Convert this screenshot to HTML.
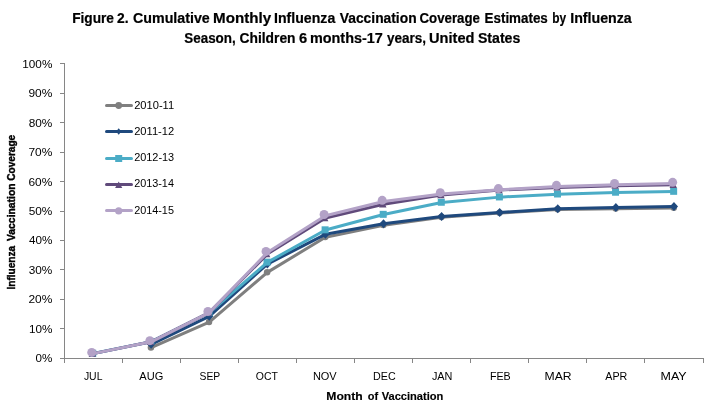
<!DOCTYPE html>
<html><head><meta charset="utf-8"><title>Figure 2</title>
<style>
html,body{margin:0;padding:0;background:#fff;}
body{width:718px;height:419px;overflow:hidden;}
svg{display:block;}
text{font-family:"Liberation Sans",sans-serif;fill:#000;}
.t{font-weight:bold;font-size:13.8px;stroke:#000;stroke-width:0.2px;}
.a{font-weight:bold;font-size:11px;stroke:#000;stroke-width:0.15px;}
.b{font-weight:bold;font-size:11.4px;stroke:#000;stroke-width:0.4px;}
.l{font-size:11.2px;}
</style></head><body>
<svg width="718" height="419" viewBox="0 0 718 419">
<rect width="718" height="419" fill="#fff"/>
<text class="t" y="22.8"><tspan x="72.20" textLength="41.80" lengthAdjust="spacingAndGlyphs">Figure</tspan> <tspan x="117.05" textLength="11.55" lengthAdjust="spacingAndGlyphs">2.</tspan> <tspan x="133.00" textLength="76.80" lengthAdjust="spacingAndGlyphs">Cumulative</tspan> <tspan x="213.10" textLength="58.05" lengthAdjust="spacingAndGlyphs">Monthly</tspan> <tspan x="274.05" textLength="61.20" lengthAdjust="spacingAndGlyphs">Influenza</tspan> <tspan x="339.80" textLength="76.80" lengthAdjust="spacingAndGlyphs">Vaccination</tspan> <tspan x="419.50" textLength="60.45" lengthAdjust="spacingAndGlyphs">Coverage</tspan> <tspan x="484.55" textLength="63.25" lengthAdjust="spacingAndGlyphs">Estimates</tspan> <tspan x="552.25" textLength="13.90" lengthAdjust="spacingAndGlyphs">by</tspan> <tspan x="570.20" textLength="61.55" lengthAdjust="spacingAndGlyphs">Influenza</tspan></text>
<text class="t" y="42.6"><tspan x="184.25" textLength="51.50" lengthAdjust="spacingAndGlyphs">Season,</tspan> <tspan x="239.55" textLength="56.00" lengthAdjust="spacingAndGlyphs">Children</tspan> <tspan x="299.00" textLength="8.15" lengthAdjust="spacingAndGlyphs">6</tspan> <tspan x="309.95" textLength="72.90" lengthAdjust="spacingAndGlyphs">months-17</tspan> <tspan x="387.00" textLength="39.10" lengthAdjust="spacingAndGlyphs">years,</tspan> <tspan x="429.05" textLength="45.40" lengthAdjust="spacingAndGlyphs">United</tspan> <tspan x="477.90" textLength="42.45" lengthAdjust="spacingAndGlyphs">States</tspan></text>
<g stroke="#868686" stroke-width="1" fill="none" shape-rendering="crispEdges">
<line x1="64.5" y1="63" x2="64.5" y2="359"/>
<line x1="64" y1="358.5" x2="704" y2="358.5"/>
<line x1="60" y1="63.5" x2="64" y2="63.5"/>
<line x1="60" y1="93.5" x2="64" y2="93.5"/>
<line x1="60" y1="122.5" x2="64" y2="122.5"/>
<line x1="60" y1="152.5" x2="64" y2="152.5"/>
<line x1="60" y1="181.5" x2="64" y2="181.5"/>
<line x1="60" y1="211.5" x2="64" y2="211.5"/>
<line x1="60" y1="240.5" x2="64" y2="240.5"/>
<line x1="60" y1="269.5" x2="64" y2="269.5"/>
<line x1="60" y1="299.5" x2="64" y2="299.5"/>
<line x1="60" y1="328.5" x2="64" y2="328.5"/>
<line x1="60" y1="358.5" x2="64" y2="358.5"/>
<line x1="64.5" y1="359" x2="64.5" y2="363"/>
<line x1="122.5" y1="359" x2="122.5" y2="363"/>
<line x1="180.5" y1="359" x2="180.5" y2="363"/>
<line x1="238.5" y1="359" x2="238.5" y2="363"/>
<line x1="296.5" y1="359" x2="296.5" y2="363"/>
<line x1="354.5" y1="359" x2="354.5" y2="363"/>
<line x1="412.5" y1="359" x2="412.5" y2="363"/>
<line x1="470.5" y1="359" x2="470.5" y2="363"/>
<line x1="528.5" y1="359" x2="528.5" y2="363"/>
<line x1="586.5" y1="359" x2="586.5" y2="363"/>
<line x1="644.5" y1="359" x2="644.5" y2="363"/>
<line x1="703.5" y1="359" x2="703.5" y2="363"/>
</g>
<text class="l" x="22.30" y="68.00" textLength="30.05" lengthAdjust="spacingAndGlyphs">100%</text>
<text class="l" x="28.45" y="97.41" textLength="23.90" lengthAdjust="spacingAndGlyphs">90%</text>
<text class="l" x="28.70" y="126.82" textLength="23.65" lengthAdjust="spacingAndGlyphs">80%</text>
<text class="l" x="28.45" y="156.23" textLength="23.90" lengthAdjust="spacingAndGlyphs">70%</text>
<text class="l" x="28.45" y="185.64" textLength="23.90" lengthAdjust="spacingAndGlyphs">60%</text>
<text class="l" x="28.70" y="215.05" textLength="23.65" lengthAdjust="spacingAndGlyphs">50%</text>
<text class="l" x="28.95" y="244.46" textLength="23.40" lengthAdjust="spacingAndGlyphs">40%</text>
<text class="l" x="28.70" y="273.87" textLength="23.65" lengthAdjust="spacingAndGlyphs">30%</text>
<text class="l" x="28.45" y="303.28" textLength="23.90" lengthAdjust="spacingAndGlyphs">20%</text>
<text class="l" x="28.90" y="332.69" textLength="23.45" lengthAdjust="spacingAndGlyphs">10%</text>
<text class="l" x="35.55" y="362.10" textLength="16.80" lengthAdjust="spacingAndGlyphs">0%</text>
<text class="l" x="83.90" y="380.00" textLength="18.55" lengthAdjust="spacingAndGlyphs">JUL</text>
<text class="l" x="139.30" y="380.00" textLength="24.00" lengthAdjust="spacingAndGlyphs">AUG</text>
<text class="l" x="199.50" y="380.00" textLength="20.70" lengthAdjust="spacingAndGlyphs">SEP</text>
<text class="l" x="255.80" y="380.00" textLength="22.10" lengthAdjust="spacingAndGlyphs">OCT</text>
<text class="l" x="312.90" y="380.00" textLength="23.80" lengthAdjust="spacingAndGlyphs">NOV</text>
<text class="l" x="373.05" y="380.00" textLength="22.60" lengthAdjust="spacingAndGlyphs">DEC</text>
<text class="l" x="431.95" y="380.00" textLength="20.50" lengthAdjust="spacingAndGlyphs">JAN</text>
<text class="l" x="489.90" y="380.00" textLength="20.80" lengthAdjust="spacingAndGlyphs">FEB</text>
<text class="l" x="544.50" y="380.00" textLength="27.05" lengthAdjust="spacingAndGlyphs">MAR</text>
<text class="l" x="605.30" y="380.00" textLength="22.05" lengthAdjust="spacingAndGlyphs">APR</text>
<text class="l" x="660.50" y="380.00" textLength="26.10" lengthAdjust="spacingAndGlyphs">MAY</text>
<text class="a" y="399.6"><tspan x="326.30" textLength="36.45" lengthAdjust="spacingAndGlyphs">Month</tspan> <tspan x="367.75" textLength="10.35" lengthAdjust="spacingAndGlyphs">of</tspan> <tspan x="381.70" textLength="61.65" lengthAdjust="spacingAndGlyphs">Vaccination</tspan></text>
<text class="b" transform="translate(15.2 288.9) rotate(-90)" y="0"><tspan x="-0.65" textLength="43.65" lengthAdjust="spacingAndGlyphs">Influenza</tspan> <tspan x="47.95" textLength="57.50" lengthAdjust="spacingAndGlyphs">Vaccination</tspan> <tspan x="108.15" textLength="46.00" lengthAdjust="spacingAndGlyphs">Coverage</tspan></text>
<polyline points="151.14,347.58 209.23,322.21 267.32,272.36 325.41,237.25 383.50,225.16 441.59,217.19 499.68,213.06 557.77,209.52 615.86,208.64 673.95,208.05" fill="none" stroke="#7F7F7F" stroke-width="3" stroke-linejoin="round" stroke-linecap="round"/>
<circle cx="150.94" cy="347.38" r="3.25" fill="#7F7F7F"/><circle cx="209.03" cy="322.01" r="3.25" fill="#7F7F7F"/><circle cx="267.12" cy="272.16" r="3.25" fill="#7F7F7F"/><circle cx="325.21" cy="237.06" r="3.25" fill="#7F7F7F"/><circle cx="383.30" cy="224.96" r="3.25" fill="#7F7F7F"/><circle cx="441.39" cy="217.00" r="3.25" fill="#7F7F7F"/><circle cx="499.48" cy="212.87" r="3.25" fill="#7F7F7F"/><circle cx="557.57" cy="209.32" r="3.25" fill="#7F7F7F"/><circle cx="615.66" cy="208.44" r="3.25" fill="#7F7F7F"/><circle cx="673.75" cy="207.85" r="3.25" fill="#7F7F7F"/>
<polyline points="151.14,344.34 209.23,316.31 267.32,264.10 325.41,234.31 383.50,223.68 441.59,216.60 499.68,212.47 557.77,208.64 615.86,207.46 673.95,206.57" fill="none" stroke="#1F497D" stroke-width="3" stroke-linejoin="round" stroke-linecap="round"/>
<polygon points="151.14,339.84 155.24,344.34 151.14,348.84 147.04,344.34" fill="#1F497D"/><polygon points="209.23,311.81 213.33,316.31 209.23,320.81 205.13,316.31" fill="#1F497D"/><polygon points="267.32,259.60 271.42,264.10 267.32,268.60 263.22,264.10" fill="#1F497D"/><polygon points="325.41,229.81 329.51,234.31 325.41,238.81 321.31,234.31" fill="#1F497D"/><polygon points="383.50,219.18 387.60,223.68 383.50,228.18 379.40,223.68" fill="#1F497D"/><polygon points="441.59,212.10 445.69,216.60 441.59,221.10 437.49,216.60" fill="#1F497D"/><polygon points="499.68,207.97 503.78,212.47 499.68,216.97 495.58,212.47" fill="#1F497D"/><polygon points="557.77,204.14 561.87,208.64 557.77,213.14 553.67,208.64" fill="#1F497D"/><polygon points="615.86,202.96 619.96,207.46 615.86,211.96 611.76,207.46" fill="#1F497D"/><polygon points="673.95,202.07 678.05,206.57 673.95,211.07 669.85,206.57" fill="#1F497D"/>
<polyline points="93.05,353.49 151.14,341.69 209.23,312.77 267.32,262.33 325.41,230.03 383.50,214.54 441.59,202.44 499.68,197.13 557.77,194.18 615.86,192.41 673.95,191.53" fill="none" stroke="#4BACC6" stroke-width="3" stroke-linejoin="round" stroke-linecap="round"/>
<rect x="89.25" y="349.79" width="7.00" height="7.00" fill="#4BACC6"/><rect x="147.34" y="337.99" width="7.00" height="7.00" fill="#4BACC6"/><rect x="205.43" y="309.07" width="7.00" height="7.00" fill="#4BACC6"/><rect x="263.52" y="258.63" width="7.00" height="7.00" fill="#4BACC6"/><rect x="321.61" y="226.33" width="7.00" height="7.00" fill="#4BACC6"/><rect x="379.70" y="210.84" width="7.00" height="7.00" fill="#4BACC6"/><rect x="437.79" y="198.75" width="7.00" height="7.00" fill="#4BACC6"/><rect x="495.88" y="193.44" width="7.00" height="7.00" fill="#4BACC6"/><rect x="553.97" y="190.48" width="7.00" height="7.00" fill="#4BACC6"/><rect x="612.06" y="188.72" width="7.00" height="7.00" fill="#4BACC6"/><rect x="670.15" y="187.83" width="7.00" height="7.00" fill="#4BACC6"/>
<polyline points="93.05,353.63 151.14,341.83 209.23,312.63 267.32,254.07 325.41,218.08 383.50,204.22 441.59,195.07 499.68,190.05 557.77,187.40 615.86,185.63 673.95,184.75" fill="none" stroke="#604A7B" stroke-width="3" stroke-linejoin="round" stroke-linecap="round"/>
<polygon points="92.35,349.23 96.05,356.83 88.65,356.83" fill="#604A7B"/><polygon points="150.44,337.43 154.14,345.03 146.74,345.03" fill="#604A7B"/><polygon points="208.53,308.23 212.23,315.83 204.83,315.83" fill="#604A7B"/><polygon points="266.62,249.67 270.32,257.27 262.92,257.27" fill="#604A7B"/><polygon points="324.71,213.68 328.41,221.28 321.01,221.28" fill="#604A7B"/><polygon points="382.80,199.81 386.50,207.41 379.10,207.41" fill="#604A7B"/><polygon points="440.89,190.67 444.59,198.27 437.19,198.27" fill="#604A7B"/><polygon points="498.98,185.65 502.68,193.25 495.28,193.25" fill="#604A7B"/><polygon points="557.07,183.00 560.77,190.60 553.37,190.60" fill="#604A7B"/><polygon points="615.16,181.23 618.86,188.83 611.46,188.83" fill="#604A7B"/><polygon points="673.25,180.34 676.95,187.94 669.55,187.94" fill="#604A7B"/>
<polyline points="93.05,353.63 151.14,341.83 209.23,312.63 267.32,252.59 325.41,215.72 383.50,201.56 441.59,193.89 499.68,189.76 557.77,186.51 615.86,184.75 673.95,183.56" fill="none" stroke="#B3A2C7" stroke-width="3" stroke-linejoin="round" stroke-linecap="round"/>
<circle cx="91.75" cy="352.43" r="4.50" fill="#B3A2C7"/><circle cx="149.84" cy="340.63" r="4.50" fill="#B3A2C7"/><circle cx="207.93" cy="311.43" r="4.50" fill="#B3A2C7"/><circle cx="266.02" cy="251.40" r="4.50" fill="#B3A2C7"/><circle cx="324.11" cy="214.52" r="4.50" fill="#B3A2C7"/><circle cx="382.20" cy="200.36" r="4.50" fill="#B3A2C7"/><circle cx="440.29" cy="192.69" r="4.50" fill="#B3A2C7"/><circle cx="498.38" cy="188.56" r="4.50" fill="#B3A2C7"/><circle cx="556.47" cy="185.31" r="4.50" fill="#B3A2C7"/><circle cx="614.56" cy="183.55" r="4.50" fill="#B3A2C7"/><circle cx="672.65" cy="182.37" r="4.50" fill="#B3A2C7"/>
<line x1="106.5" y1="105.5" x2="131.5" y2="105.5" stroke="#7F7F7F" stroke-width="3" stroke-linecap="round"/>
<circle cx="118.70" cy="105.50" r="3.40" fill="#7F7F7F"/>
<text class="l" x="134.15" y="108.80" textLength="40.05" lengthAdjust="spacingAndGlyphs">2010-11</text>
<line x1="106.5" y1="131.5" x2="131.5" y2="131.5" stroke="#1F497D" stroke-width="3" stroke-linecap="round"/>
<polygon points="118.70,128.30 121.30,131.50 118.70,134.70 116.10,131.50" fill="#1F497D"/>
<text class="l" x="134.15" y="134.80" textLength="40.05" lengthAdjust="spacingAndGlyphs">2011-12</text>
<line x1="106.5" y1="158.5" x2="131.5" y2="158.5" stroke="#4BACC6" stroke-width="3" stroke-linecap="round"/>
<rect x="115.20" y="155.00" width="7.00" height="7.00" fill="#4BACC6"/>
<text class="l" x="134.15" y="160.90" textLength="40.05" lengthAdjust="spacingAndGlyphs">2012-13</text>
<line x1="106.5" y1="184.5" x2="131.5" y2="184.5" stroke="#604A7B" stroke-width="3" stroke-linecap="round"/>
<polygon points="118.70,181.40 122.30,188.00 115.10,188.00" fill="#604A7B"/>
<text class="l" x="134.15" y="186.90" textLength="39.80" lengthAdjust="spacingAndGlyphs">2013-14</text>
<line x1="106.5" y1="210.5" x2="131.5" y2="210.5" stroke="#B3A2C7" stroke-width="3" stroke-linecap="round"/>
<circle cx="118.70" cy="210.90" r="3.60" fill="#B3A2C7"/>
<text class="l" x="134.15" y="213.80" textLength="39.80" lengthAdjust="spacingAndGlyphs">2014-15</text>
</svg></body></html>
